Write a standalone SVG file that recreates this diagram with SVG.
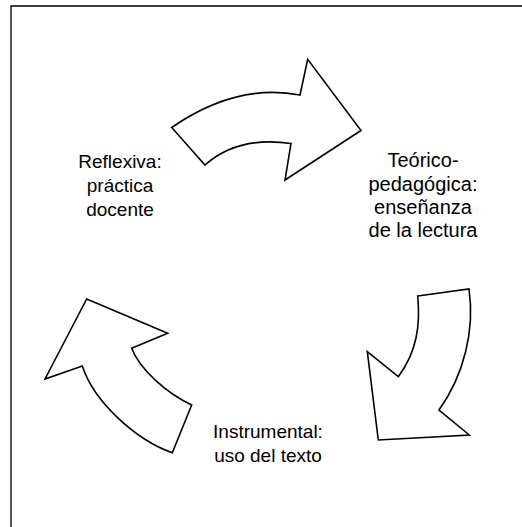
<svg xmlns="http://www.w3.org/2000/svg" width="522" height="527" viewBox="0 0 522 527">
  <style>
    .arrow { fill: #ffffff; stroke: #000000; stroke-width: 1.6; stroke-linejoin: miter; }
    .frame { fill: none; stroke: #000000; stroke-width: 1.3; }
    .lbl { font-family: "Liberation Sans", Arial, sans-serif; font-size: 19px; fill: #000000; text-anchor: middle; }
    .lblR { font-size: 20px; }
  </style>
  <rect x="0" y="0" width="522" height="527" fill="#ffffff"/>
  <path class="frame" d="M11,527 V6 H522"/>
  <g id="connectors">
    <path id="arrow-top" class="arrow" d="M171.7,127.5 Q236.2,82.8 300,95 L307.7,59.3 L361,130.5 L285,180 L291,143.5 Q238,135.8 205,165 Z"/>
    <path id="arrow-right" class="arrow" d="M417.7,296 L469,289 C475,330 464,375 439,410 L469.3,435 L378.3,440 L367.3,351.7 L398.3,376.7 C417,351.6 420.5,324.8 417.7,296 Z"/>
    <path id="arrow-left" class="arrow" d="M86.7,299 L167.7,333.3 L131.7,348.3 C139.2,368.4 165.7,393 191.7,405 L172.3,452.7 C136,440 94,402 82.3,366 L45,379 Z"/>
  </g>
  <g id="node-reflexiva">
    <text class="lbl" x="120" y="168">Reflexiva:</text>
    <text class="lbl" x="120" y="192">práctica</text>
    <text class="lbl" x="120" y="216">docente</text>
  </g>
  <g id="node-teorico">
    <text class="lbl lblR" x="423" y="167">Teórico-</text>
    <text class="lbl lblR" x="423" y="191">pedagógica:</text>
    <text class="lbl lblR" x="423" y="214">enseñanza</text>
    <text class="lbl lblR" x="423" y="237">de la lectura</text>
  </g>
  <g id="node-instrumental">
    <text class="lbl" x="268" y="438">Instrumental:</text>
    <text class="lbl" x="268" y="462">uso del texto</text>
  </g>
</svg>
